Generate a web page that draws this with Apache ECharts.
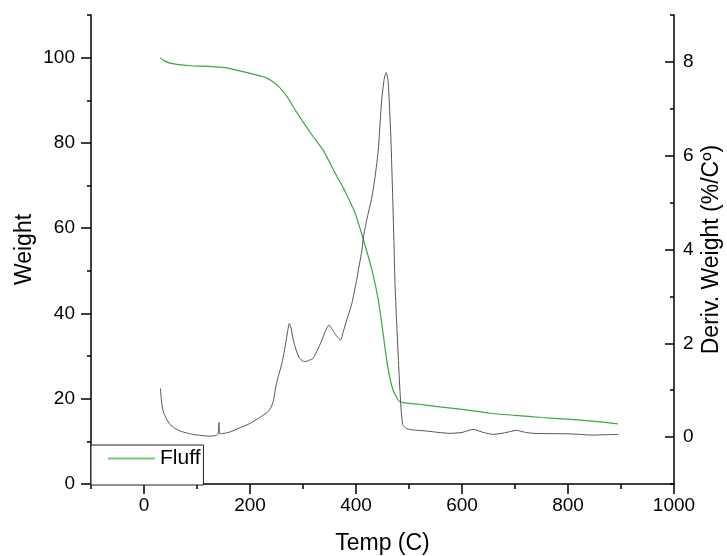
<!DOCTYPE html>
<html>
<head>
<meta charset="utf-8">
<script src="https://cdn.jsdelivr.net/npm/echarts@6/dist/echarts.min.js"></script>
<style>html,body{margin:0;padding:0;background:#fff;}#c{width:727px;height:556px;}</style>
</head>
<body>
<div id="c"></div>
<script>
// Weight curve (left axis)
var tempW = [30, 38, 49, 70, 87, 149, 200, 232, 251, 270, 289, 319, 338, 364, 375, 398, 413, 430, 442, 451, 460, 470, 483, 520, 558, 600, 653, 700, 750, 798, 850, 894];
var weight = [100.0, 99.3, 98.7, 98.3, 98.1, 97.7, 96.3, 95.2, 93.6, 90.8, 87.0, 81.5, 78.3, 72.1, 69.7, 63.6, 57.7, 50.2, 43.2, 35.4, 27.4, 22.0, 19.3, 18.7, 18.1, 17.5, 16.6, 16.1, 15.6, 15.2, 14.7, 14.1];

// Derivative curve (right axis)
var tempD = [31, 33, 36, 42, 49, 58, 68, 80, 92, 108, 124, 134, 139.5, 141.5, 143.5, 160, 181, 198, 213, 224, 232, 239, 244, 250, 260, 266, 271, 274, 277, 282, 291, 298, 304, 312, 319, 327, 335, 342, 349, 355, 360, 366, 371, 376, 382, 392, 401, 411, 414, 420, 430, 436, 442, 448.5, 453, 456.6, 459, 461, 465.5, 468.5, 471.7, 473.6, 476.5, 479.8, 483, 488, 496, 510, 533, 555, 577, 600, 621, 640, 659, 680, 703, 720, 735, 760, 798, 820, 842, 870, 895];
var deriv = [1.04, 0.77, 0.56, 0.40, 0.27, 0.19, 0.13, 0.09, 0.06, 0.035, 0.02, 0.03, 0.06, 0.31, 0.07, 0.10, 0.20, 0.28, 0.38, 0.46, 0.52, 0.62, 0.77, 1.15, 1.56, 1.91, 2.25, 2.42, 2.35, 2.05, 1.73, 1.63, 1.61, 1.64, 1.68, 1.85, 2.05, 2.25, 2.39, 2.30, 2.21, 2.12, 2.07, 2.25, 2.48, 2.84, 3.34, 3.98, 4.26, 4.62, 5.12, 5.55, 6.12, 7.19, 7.62, 7.77, 7.70, 7.54, 6.47, 5.41, 4.12, 3.27, 2.50, 1.70, 0.98, 0.27, 0.18, 0.15, 0.13, 0.10, 0.08, 0.10, 0.165, 0.10, 0.058, 0.09, 0.143, 0.10, 0.08, 0.075, 0.07, 0.06, 0.043, 0.05, 0.058];

// Tick labels
var xTicks = [0, 200, 400, 600, 800, 1000];
var yLeftTicks = [0, 20, 40, 60, 80, 100];
var yRightTicks = [0, 2, 4, 6, 8];

var FONT = "'Liberation Sans', Arial, sans-serif";
var axisLineStyle = {color: '#000', width: 1.5};
function plain(v) { return String(v); }

function pairs(xs, ys) { return xs.map(function (x, i) { return [x, ys[i]]; }); }

var chart = echarts.init(document.getElementById('c'), null, {renderer: 'canvas'});
chart.setOption({
  animation: false,
  backgroundColor: '#fff',
  grid: {left: 91, right: 53, top: 15, bottom: 72, containLabel: false, outerBoundsMode: 'none'},
  legend: {
    left: 91, top: 445,
    padding: [3, 3, 16, 17],
    itemWidth: 47, itemHeight: 2,
    borderColor: '#222', borderWidth: 1, borderRadius: 0,
    backgroundColor: '#fff',
    textStyle: {fontSize: 21, fontFamily: FONT, color: '#000'},
    data: [{name: 'Fluff', icon: 'rect', itemStyle: {color: '#7cc77c'}}]
  },
  xAxis: [
    {type: 'value', min: -100, max: 1000, interval: 100, position: 'bottom',
     axisLine: {show: true, onZero: false, lineStyle: axisLineStyle},
     axisTick: {show: true, length: 5, lineStyle: axisLineStyle},
     axisLabel: {show: false}, splitLine: {show: false}},
    {type: 'value', min: -100, max: 1000, position: 'bottom',
     axisLine: {show: false, onZero: false},
     axisTick: {show: true, length: 10, customValues: xTicks, lineStyle: axisLineStyle},
     axisLabel: {show: true, customValues: xTicks, formatter: plain, margin: 12, fontSize: 19, fontFamily: FONT, color: '#000'},
     splitLine: {show: false},
     name: 'Temp (C)', nameLocation: 'middle', nameGap: 48, nameMoveOverlap: false,
     nameTextStyle: {fontSize: 23, fontFamily: FONT, color: '#000'}}
  ],
  yAxis: [
    {type: 'value', min: 0, max: 110, interval: 10, position: 'left',
     axisLine: {show: true, onZero: false, lineStyle: axisLineStyle},
     axisTick: {show: true, length: 4, lineStyle: axisLineStyle},
     axisLabel: {show: false}, splitLine: {show: false}},
    {type: 'value', min: 0, max: 110, position: 'left',
     axisLine: {show: false, onZero: false},
     axisTick: {show: true, length: 10, customValues: yLeftTicks, lineStyle: axisLineStyle},
     axisLabel: {show: true, customValues: yLeftTicks, formatter: plain, margin: 16, fontSize: 19, fontFamily: FONT, color: '#000'},
     splitLine: {show: false},
     name: 'Weight', nameLocation: 'middle', nameGap: 55, nameRotate: 90, nameMoveOverlap: false,
     nameTextStyle: {fontSize: 23, fontFamily: FONT, color: '#000'}},
    {type: 'value', min: -1, max: 9, interval: 1, position: 'right',
     axisLine: {show: true, onZero: false, lineStyle: axisLineStyle},
     axisTick: {show: true, inside: true, length: 4, lineStyle: axisLineStyle},
     axisLabel: {show: false}, splitLine: {show: false}},
    {type: 'value', min: -1, max: 9, position: 'right',
     axisLine: {show: false, onZero: false},
     axisTick: {show: true, inside: true, length: 9, customValues: yRightTicks, lineStyle: axisLineStyle},
     axisLabel: {show: true, customValues: yRightTicks, formatter: plain, margin: 9, fontSize: 19, fontFamily: FONT, color: '#000'},
     splitLine: {show: false},
     name: 'Deriv. Weight (%/Cº)', nameLocation: 'middle', nameGap: 26, nameRotate: 90, nameMoveOverlap: false,
     nameTextStyle: {fontSize: 23, fontFamily: FONT, color: '#000'}}
  ],
  series: [
    {name: 'Fluff', type: 'line', xAxisIndex: 0, yAxisIndex: 0,
     data: pairs(tempW, weight), symbol: 'none', smooth: 0.2,
     lineStyle: {color: '#3aaa3a', width: 1.2}, itemStyle: {color: '#3aaa3a'}, z: 2},
    {name: 'Deriv', type: 'line', xAxisIndex: 0, yAxisIndex: 2,
     data: pairs(tempD, deriv), symbol: 'none', smooth: 0.2,
     lineStyle: {color: '#555', width: 1}, itemStyle: {color: '#555'}, z: 3}
  ]
});
</script>
</body>
</html>
